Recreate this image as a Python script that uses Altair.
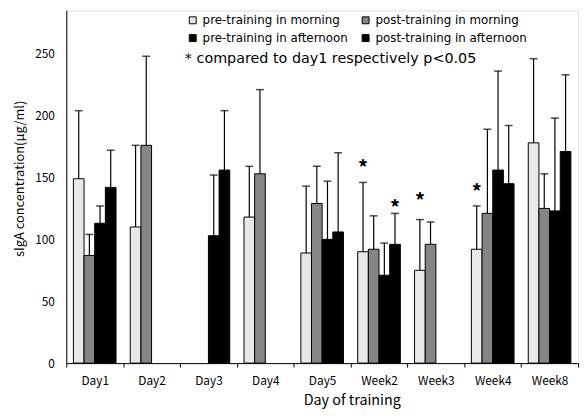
import altair as alt
import pandas as pd

categories = ["Day1", "Day2", "Day3", "Day4", "Day5", "Week2", "Week3", "Week4", "Week8"]
series = ["pre-training in morning", "post-training in morning",
          "pre-training in afternoon", "post-training in afternoon"]
colors = ["#e8e8e8", "#858585", "#000000", "#000000"]
# legend fills column by column: morning/afternoon pairs
legend_order = [series[0], series[2], series[1], series[3]]
legend_colors = [colors[0], colors[2], colors[1], colors[3]]

# means (None = not measured)
pre_morning = [149, 110, None, 118, 89, 90, 75, 92, 178]
post_morning = [87, 176, None, 153, 129, 92, 96, 121, 125]
pre_afternoon = [113, None, 103, None, 100, 71, None, 156, 123]
post_afternoon = [142, None, 156, None, 106, 96, None, 145, 171]

# top of the error bars
pre_morning_err = [204, 176, None, 159, 143, 146, 116, 127, 246]
post_morning_err = [104, 248, None, 221, 159, 119, 114, 189, 153]
pre_afternoon_err = [127, None, 152, None, 147, 97, None, 236, 198]
post_afternoon_err = [172, None, 204, None, 170, 121, None, 192, 233]

# significance markers
star_category = ["Week2", "Week2", "Week3", "Week4"]
star_series = ["pre-training in morning", "post-training in afternoon",
               "pre-training in morning", "pre-training in morning"]
star_value = [160, 128, 133, 141]

note = "* compared to day1  respectively p<0.05"

means = [pre_morning, post_morning, pre_afternoon, post_afternoon]
errs = [pre_morning_err, post_morning_err, pre_afternoon_err, post_afternoon_err]
rows = []
for s, m, e in zip(series, means, errs):
    for c, v, ev in zip(categories, m, e):
        if v is not None:
            rows.append({"day": c, "series": s, "value": v, "err": ev})
df = pd.DataFrame(rows)
stars = pd.DataFrame({"day": star_category, "series": star_series, "value": star_value})

FONT = "Noto Sans CJK JP"
FONT2 = "DejaVu Sans"

x = alt.X("day:N", sort=categories, title="Day of training",
          scale=alt.Scale(domain=categories, paddingInner=0, paddingOuter=0),
          axis=alt.Axis(labelAngle=0, tickBand="extent", tickSize=4, tickColor="black",
                        domainColor="black", labelFontSize=12, labelPadding=9,
                        titleFontSize=14.5, titleFontWeight="normal", titlePadding=7,
                        titleX=289, labelColor="black", titleColor="black"))
xo = alt.XOffset("series:N", scale=alt.Scale(domain=series, paddingInner=0, paddingOuter=0.667))
y = alt.Y("value:Q", title="sIgA concentration(μg/ml)",
          scale=alt.Scale(domain=[0, 285], nice=False),
          axis=alt.Axis(values=[0, 50, 100, 150, 200, 250], ticks=False, grid=False,
                        domainColor="black", labelFontSize=12, labelPadding=12,
                        titleFontSize=13, titleFontWeight="normal", titlePadding=8,
                        titleY=170, labelColor="black", titleColor="black"))

bars = alt.Chart(df).mark_bar(stroke="black", strokeWidth=1).encode(
    x=x, xOffset=xo, y=y,
    color=alt.Color("series:N", scale=alt.Scale(domain=legend_order, range=legend_colors),
                    legend=alt.Legend(title=None, orient="none", legendX=122, legendY=4,
                                      columns=2, symbolType="square", symbolSize=49,
                                      symbolStrokeColor="black", symbolStrokeWidth=1,
                                      labelFontSize=12, labelColor="black", labelFont=FONT2,
                                      rowPadding=6, columnPadding=11, labelOffset=4)),
)

rules = alt.Chart(df).mark_rule(color="black", strokeWidth=1.2).encode(
    x=x, xOffset=xo, y="value:Q", y2="err:Q")
caps = alt.Chart(df).mark_tick(color="black", thickness=1.5, size=8).encode(
    x=x, xOffset=xo, y="err:Q")
star_marks = alt.Chart(stars).mark_text(text="*", fontSize=20, font=FONT, color="black",
                                        fontWeight="bold", baseline="middle", dy=4).encode(
    x=x, xOffset=xo, y="value:Q")
note_mark = alt.Chart(pd.DataFrame({"t": [note]})).mark_text(
    align="left", baseline="middle", fontSize=14.5, font=FONT2, color="black").encode(
    x=alt.value(120), y=alt.value(49), text="t:N")

chart = alt.layer(bars, rules, caps, star_marks, note_mark).properties(
    width=518, height=357,
    padding={"left": 6, "top": 0, "right": 0, "bottom": 0},
    background="white",
).configure_view(stroke=None).configure(font=FONT)

chart.save("out.html", embed_options={"renderer": "svg", "actions": False})
